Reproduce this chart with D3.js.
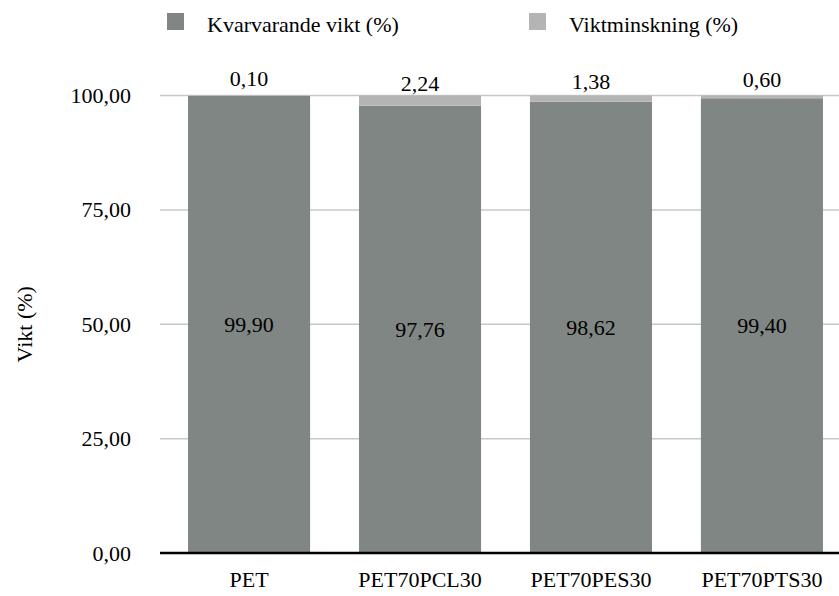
<!DOCTYPE html>
<html>
<head>
<meta charset="utf-8">
<script src="https://cdn.jsdelivr.net/npm/d3@7"></script>
<style>
  html, body { margin: 0; padding: 0; background: #fff; }
</style>
</head>
<body>
<svg id="chart" width="839" height="596"></svg>
<script>
// Samples and their weight balance after treatment
const categories = ["PET", "PET70PCL30", "PET70PES30", "PET70PTS30"];
const remaining = [99.90, 97.76, 98.62, 99.40];   // Kvarvarande vikt (%)
const loss = [0.10, 2.24, 1.38, 0.60];            // Viktminskning (%)
const yTicks = [0, 25, 50, 75, 100];
const seriesNames = ["Kvarvarande vikt (%)", "Viktminskning (%)"];
const colors = ["#808683", "#b4b4b4"];

const W = 839, H = 596;
const fontSize = 22;
const serif = "'Liberation Serif', monospace";
const fmt = v => d3.format(".2f")(v).replace(".", ",");

const svg = d3.select("#chart");

const x = d3.scaleBand()
  .domain(categories)
  .range([160, 851])
  .paddingInner(0.286)
  .paddingOuter(0.164);

const y = d3.scaleLinear().domain([0, 100]).range([553, 95.5]);

function styleText(sel) {
  sel.attr("font-family", null)
    .style("font-family", serif)
    .style("font-size", fontSize + "px")
    .style("fill", "#000");
}

// horizontal grid
svg.append("g")
  .selectAll("line")
  .data(yTicks.filter(t => t > 0))
  .join("line")
  .attr("x1", 160).attr("x2", W)
  .attr("y1", d => y(d)).attr("y2", d => y(d))
  .attr("stroke", "#c8c8c8").attr("stroke-width", 1.5);

// y axis labels
const yAxis = d3.axisLeft(y).tickValues(yTicks).tickFormat(fmt).tickSize(0).tickPadding(29);
const gy = svg.append("g").attr("transform", "translate(160,0)").call(yAxis);
gy.attr("font-family", null).attr("font-size", null);
gy.select(".domain").remove();
gy.selectAll("text").call(styleText);

// stacked bars
const rows = categories.map((c, i) => ({ cat: c, a: remaining[i], b: loss[i] }));
svg.append("g").selectAll("rect")
  .data(rows).join("rect")
  .attr("x", d => x(d.cat)).attr("width", x.bandwidth())
  .attr("y", d => y(d.a)).attr("height", d => y(0) - y(d.a))
  .attr("fill", colors[0]);
svg.append("g").selectAll("rect")
  .data(rows).join("rect")
  .attr("x", d => x(d.cat)).attr("width", x.bandwidth())
  .attr("y", d => y(d.a + d.b)).attr("height", d => y(d.a) - y(d.a + d.b))
  .attr("fill", colors[1]);

// value labels
svg.append("g").selectAll("text")
  .data(rows).join("text")
  .attr("x", d => x(d.cat) + x.bandwidth() / 2)
  .attr("y", d => y(d.a / 2))
  .attr("dy", "0.35em")
  .attr("text-anchor", "middle")
  .text(d => fmt(d.a))
  .call(styleText);
svg.append("g").selectAll("text")
  .data(rows).join("text")
  .attr("x", d => x(d.cat) + x.bandwidth() / 2)
  .attr("y", d => (y(d.a) + y(d.a + d.b)) / 2 - 10)
  .attr("text-anchor", "middle")
  .text(d => fmt(d.b))
  .call(styleText);

// baseline
svg.append("line")
  .attr("x1", 160).attr("x2", W)
  .attr("y1", y(0)).attr("y2", y(0))
  .attr("stroke", "#000").attr("stroke-width", 2.5);

// x axis labels
const xAxis = d3.axisBottom(x).tickSize(0).tickPadding(18);
const gx = svg.append("g").attr("transform", `translate(0,${y(0)})`).call(xAxis);
gx.attr("font-family", null).attr("font-size", null);
gx.select(".domain").remove();
gx.selectAll("text").call(styleText);

// y axis title
svg.append("text")
  .attr("transform", `translate(32,${y(50)}) rotate(-90)`)
  .attr("text-anchor", "middle")
  .text("Vikt (%)")
  .call(styleText);

// legend
const legendX = [167, 529];
const lg = svg.append("g").selectAll("g")
  .data(seriesNames).join("g")
  .attr("transform", (d, i) => `translate(${legendX[i]},13)`);
lg.append("rect").attr("width", 17).attr("height", 17).attr("fill", (d, i) => colors[i]);
lg.append("text").attr("x", 40).attr("y", 19).text(d => d).call(styleText);
</script>
</body>
</html>
